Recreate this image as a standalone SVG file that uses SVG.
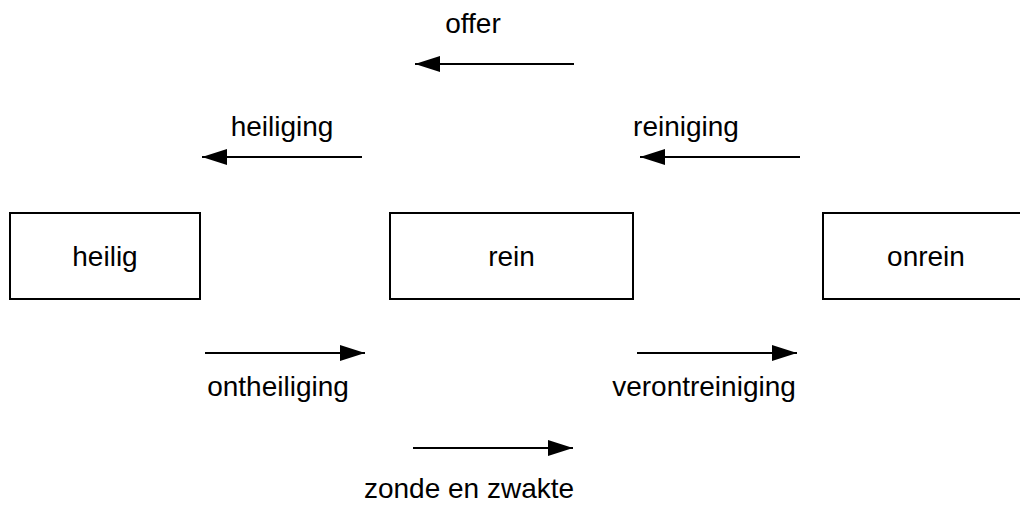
<svg xmlns="http://www.w3.org/2000/svg" width="1020" height="506" viewBox="0 0 1020 506">
<style>
.box{fill:#fff;stroke:#000;stroke-width:2}
.t{font-family:"Liberation Sans",Arial,sans-serif;font-size:28px;fill:#000;text-anchor:middle}
.c{stroke:#000;stroke-width:2;fill:none;marker-end:url(#ah)}
</style>
<defs>
<marker id="ah" markerUnits="userSpaceOnUse" markerWidth="26" markerHeight="16" refX="25" refY="8" orient="auto">
<path d="M0,0 L25,8 L0,16 Z" fill="#000"/>
</marker>
</defs>
<rect width="1020" height="506" fill="#fff"/>
<g id="heilig"><rect class="box" x="10" y="213" width="190" height="86"/><text class="t" x="105" y="266">heilig</text></g>
<g id="rein"><rect class="box" x="390" y="213" width="243" height="86"/><text class="t" x="511.5" y="266">rein</text></g>
<g id="onrein"><rect class="box" x="823" y="213" width="206" height="86"/><text class="t" x="926" y="266">onrein</text></g>
<g id="connectors">
<line class="c" x1="574" y1="64" x2="415" y2="64"/>
<line class="c" x1="362" y1="157" x2="202" y2="157"/>
<line class="c" x1="800" y1="157" x2="640" y2="157"/>
<line class="c" x1="205" y1="353" x2="365" y2="353"/>
<line class="c" x1="637" y1="353" x2="797" y2="353"/>
<line class="c" x1="413" y1="448" x2="573" y2="448"/>
<text class="t" x="473" y="33">offer</text>
<text class="t" x="282" y="136">heiliging</text>
<text class="t" x="686" y="136">reiniging</text>
<text class="t" x="278" y="396">ontheiliging</text>
<text class="t" x="704" y="396">verontreiniging</text>
<text class="t" x="469" y="498">zonde en zwakte</text>
</g>
</svg>
